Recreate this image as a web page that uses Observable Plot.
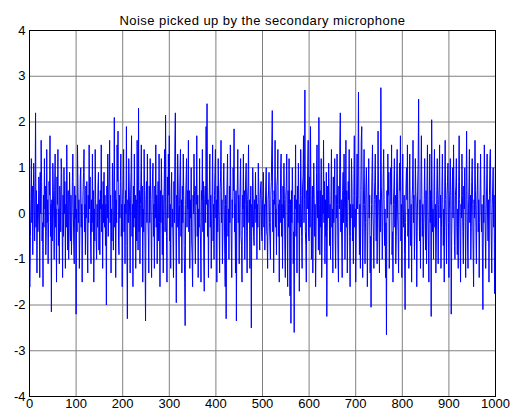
<!DOCTYPE html>
<html><head><meta charset="utf-8">
<script src="https://cdn.jsdelivr.net/npm/d3@7"></script>
<script src="https://cdn.jsdelivr.net/npm/@observablehq/plot@0.6"></script>
<style>
html,body{margin:0;padding:0;background:#fff;}
#chart svg{display:block;}
.ttl text{letter-spacing:0.45px;}
</style></head><body><div id="chart"></div>
<script>
const title = "Noise picked up by the secondary microphone";
const xTicks = [0,100,200,300,400,500,600,700,800,900,1000];
const yTicks = [-4,-3,-2,-1,0,1,2,3,4];
const noise = [
-1.6,-0.5,0.3,1.2,-0.2,0.6,-0.9,0.1,1.1,0.4,-0.6,0.3,2.2,-0.3,0.5,-1.3,0.2,-0.4,-0.1,0.8,
0.5,-1.4,0.9,0.0,1.6,0.7,-0.6,-0.2,-1.6,0.4,-0.3,1.2,0.1,0.6,-0.9,-0.4,1.4,-0.2,0.3,-1.1,
-0.2,0.7,0.4,1.7,-0.5,0.2,-2.15,0.3,-0.6,1.1,0.6,-0.1,-1.0,0.5,1.3,-0.3,0.1,-1.5,0.8,0.2,
1.4,-0.7,0.1,-1.1,0.6,0.3,-0.4,1.2,0.9,-0.2,-1.4,0.4,-0.5,1.0,0.0,0.7,-1.2,0.2,-0.3,1.5,
0.3,-0.8,0.5,-1.0,-0.3,0.9,0.2,-0.6,0.4,-0.9,-0.2,0.7,1.3,0.1,-0.7,-1.1,0.6,-0.1,0.4,-2.2,
0.1,-0.4,1.5,0.6,-0.2,0.3,-1.2,-0.5,0.8,1.0,-0.3,0.2,-1.5,-0.1,0.5,0.9,1.4,-0.4,0.2,-0.9,
0.6,-0.1,0.7,-0.6,-1.3,0.4,-0.2,1.5,0.1,0.8,-0.5,-1.1,0.3,-0.4,1.3,-0.2,0.5,-1.5,0.1,-0.6,
1.4,0.3,-0.5,-1.0,0.2,-0.3,0.6,0.9,-0.8,0.3,-0.9,0.5,0.1,1.5,-0.4,0.2,-1.2,0.7,-0.2,0.9,
-0.3,0.4,-0.7,0.2,-2.0,0.6,-0.1,1.3,-0.5,0.3,0.8,1.6,-0.2,0.4,-1.3,0.1,-0.6,1.1,0.5,-0.8,
0.2,2.1,-0.3,0.5,-1.4,0.3,-0.2,1.5,0.7,1.8,-0.6,-0.9,0.4,-0.1,0.7,1.3,-0.5,0.2,-1.6,0.3,
0.6,1.4,-0.4,0.2,-1.1,0.5,0.0,1.9,-0.7,-2.3,0.3,-0.2,1.2,0.6,-0.1,-1.3,0.4,0.9,1.7,-0.5,
0.2,-1.6,0.6,-0.3,1.3,-0.1,0.4,-1.2,0.3,-0.6,1.6,0.1,-0.8,2.3,-0.4,0.5,-1.1,0.2,0.7,1.5,
-0.3,0.6,-1.5,0.1,-0.4,1.4,0.5,-0.9,-2.35,0.3,0.7,-0.2,1.3,0.0,-0.5,-1.3,0.6,-0.2,1.2,0.3,
-0.4,-1.4,0.3,0.8,1.1,-0.5,0.2,-1.2,0.6,-0.1,1.5,-0.3,0.4,-1.1,0.1,0.7,-0.6,1.3,-0.2,-1.6,
0.5,-0.2,1.2,0.3,-0.9,0.4,-1.3,0.1,0.6,1.4,-0.4,2.15,0.2,-0.5,-1.5,0.8,-0.1,1.3,0.4,1.7,
-0.6,0.2,-1.2,0.5,0.9,-0.3,0.1,-0.6,-1.4,0.7,-0.2,1.5,2.2,0.3,-1.95,0.4,-0.3,1.3,0.6,-0.4,
-1.1,0.2,0.9,1.4,-0.5,0.3,-1.3,0.6,-0.2,1.3,0.4,-0.7,-1.5,-2.45,0.2,0.7,1.2,-0.3,0.5,0.1,
1.6,-0.4,0.5,-1.2,0.3,-0.1,1.0,-0.6,-0.9,-1.6,0.4,0.0,1.3,0.5,-0.3,-1.1,0.6,0.2,1.7,-0.5,
0.4,-1.4,0.1,-0.3,1.2,-0.2,-0.6,-1.5,0.5,0.3,1.4,-0.4,0.7,-1.0,-1.7,0.3,0.6,-0.2,1.9,0.2,
2.4,-0.5,0.3,-1.4,0.1,0.6,1.3,-0.3,0.4,-1.2,-0.1,0.5,1.5,-0.6,0.2,-1.0,0.4,0.9,1.4,-0.1,
0.3,-1.5,0.6,-0.4,1.2,0.1,-0.3,-1.3,0.5,0.8,1.6,-0.2,0.3,-1.1,-0.4,0.6,1.1,0.2,-0.9,-1.6,
0.4,-2.3,0.2,0.7,1.3,-0.5,0.1,-1.0,0.6,-0.2,1.5,0.4,-0.6,-1.4,0.3,-0.1,1.0,0.5,1.85,-0.4,
0.2,-1.3,0.5,-2.35,0.3,0.6,1.4,-0.2,0.4,-1.1,0.1,0.6,1.2,-0.5,-0.7,-1.5,0.4,0.1,1.3,-0.3,
0.5,-1.0,0.2,0.8,1.1,-0.4,-1.3,0.3,0.6,1.5,-0.2,0.3,-1.2,0.1,0.6,-2.5,0.2,-0.3,1.0,0.4,
-0.5,-0.7,0.3,0.1,0.9,-0.2,0.4,-1.0,0.2,-0.3,1.1,0.5,-0.1,-0.8,0.3,0.6,0.7,-0.4,-0.6,0.2,
0.4,0.9,-0.3,0.2,-0.8,0.1,0.6,1.0,-0.4,-0.5,-1.2,0.3,0.5,0.9,-0.2,-0.6,-1.0,0.4,0.7,1.5,
2.25,-0.4,0.3,-1.3,0.5,0.2,1.6,-0.3,0.1,-0.9,0.6,0.8,1.4,-0.5,0.2,-1.5,0.3,-0.2,1.0,1.3,
-0.5,0.2,-1.2,0.6,-0.1,1.1,0.3,-0.8,-1.4,0.4,0.6,1.3,-0.2,-1.6,0.5,-0.3,1.2,0.2,-1.8,0.3,
-2.4,0.5,-0.2,1.0,0.3,-1.1,-0.4,-2.6,0.4,0.1,1.5,-0.5,0.3,-1.3,0.6,-0.2,1.1,0.3,-1.7,0.2,
-0.3,1.4,0.4,-0.5,-1.2,0.6,0.8,1.7,-0.2,0.3,2.7,-0.4,-0.7,-1.5,0.5,0.1,1.0,1.6,-0.5,-0.6,
0.8,-0.3,1.9,0.4,-1.0,-0.2,0.6,-1.3,0.1,1.1,0.3,-0.5,0.2,-1.6,-0.4,0.9,1.5,-0.1,0.5,-0.8,
2.1,0.2,-0.9,0.5,-0.3,1.2,-1.4,-0.6,0.4,0.0,1.6,-0.2,0.7,-1.1,0.3,-0.5,0.9,-2.25,-0.4,0.6,
-0.1,1.1,0.4,-0.7,0.2,-1.0,0.5,1.4,-0.3,0.1,-1.3,0.8,-0.2,0.3,1.2,-0.6,-1.2,0.4,-0.1,1.3,
0.2,-0.9,-1.5,0.6,0.1,1.5,2.2,-0.4,0.3,-0.6,-1.4,0.5,0.9,-0.2,1.3,0.4,-1.0,0.1,1.6,-0.3,
0.5,-1.3,-0.2,0.7,0.3,1.4,-0.5,-1.6,0.2,-0.1,1.2,0.6,-0.6,0.2,-1.1,0.4,1.7,-0.3,0.1,-1.5,
-0.6,0.4,1.3,0.1,0.9,2.65,0.3,-0.9,0.2,-1.2,0.5,1.6,1.9,-0.1,-1.4,-0.3,0.6,1.4,0.2,-1.1,
-0.2,0.6,1.0,0.3,-1.6,-0.4,0.5,1.2,-0.1,0.4,-1.3,-0.5,-2.05,0.2,0.9,1.5,0.0,-0.5,-1.2,0.3,
0.7,1.3,0.2,-0.6,0.4,-1.1,0.1,1.8,0.5,-0.2,-1.3,0.3,-0.4,2.75,0.6,0.1,-1.0,-0.3,0.8,1.4,
0.3,-0.7,0.1,-1.4,-0.2,-2.65,0.5,-0.1,1.3,0.4,0.9,-1.2,-0.3,0.6,1.0,0.2,1.5,-0.9,-0.4,-1.5,
0.2,0.6,1.2,-0.3,0.4,-1.1,-0.5,0.8,1.4,0.0,-0.4,-1.3,0.3,1.1,0.5,1.7,-0.6,0.2,-1.4,0.5,
1.3,0.1,-0.3,0.4,-0.9,-2.1,-0.2,0.6,1.0,0.3,1.5,-0.5,0.1,-1.2,0.4,1.3,-0.1,-0.7,0.2,-1.5,
0.3,0.6,1.6,-0.2,0.4,-1.0,-0.3,1.2,0.5,0.1,-1.6,-0.4,0.6,1.1,2.5,0.2,-0.6,0.3,-1.2,0.8,
1.7,0.4,-0.5,0.2,-1.4,-0.2,0.3,1.2,-0.1,-0.8,0.5,-1.1,0.7,1.5,0.1,-0.6,-1.5,0.4,1.3,-0.2,
0.5,-2.25,2.05,0.3,-0.4,0.1,-1.0,0.6,1.4,-0.3,0.2,-1.3,-0.6,0.5,1.2,0.3,-1.1,0.2,0.6,1.5,
-0.1,0.4,-1.2,-0.3,0.5,1.3,0.2,-0.7,0.1,-1.5,0.6,1.6,0.3,-0.3,-1.1,0.4,0.7,1.1,-0.2,-1.4,
0.1,0.5,1.2,0.4,-2.2,-0.5,0.3,1.0,-0.1,1.5,0.2,-0.7,-1.0,0.4,0.6,1.2,-0.3,-0.9,0.1,-1.2,
0.7,1.7,0.3,-0.5,-1.5,0.2,-0.1,1.3,0.4,-0.4,-1.1,0.6,0.1,1.0,-0.2,-1.4,0.5,1.8,0.3,-0.6,
-1.2,0.1,0.6,1.4,-0.2,0.4,-1.0,-0.3,0.7,1.2,0.2,-0.8,-1.6,0.3,-0.1,1.6,0.5,-0.3,-1.1,0.2,
0.6,1.1,-0.4,0.3,-1.4,-0.2,0.5,1.3,0.1,-0.4,0.2,-1.0,-2.1,0.4,-0.2,1.5,0.6,-0.4,-1.2,0.1,
0.6,1.3,-0.1,-0.6,0.3,-1.5,0.4,1.2,1.4,0.2,-0.6,-1.3,0.1,0.6,1.0,-0.3,0.4,-1.75,-0.5,1.7
];
const data = noise.map((v, i) => ({n: i + 1, v}));
const font = "'Liberation Sans', Arial, Helvetica, sans-serif";
const chart = Plot.plot({
  width: 517, height: 418,
  marginLeft: 29, marginRight: 22, marginTop: 30, marginBottom: 22,
  style: {fontFamily: font, fontSize: "13px", background: "#fff", color: "#000"},
  x: {domain: [0, 1000], ticks: xTicks},
  y: {domain: [-4, 4], ticks: yTicks},
  marks: [
    Plot.gridX(xTicks, {stroke: "#808080", strokeOpacity: 1}),
    Plot.gridY(yTicks, {stroke: "#808080", strokeOpacity: 1}),
    Plot.lineY(data, {x: "n", y: "v", stroke: "#0000ff", strokeWidth: 1}),
    Plot.frame({stroke: "#000"}),
    Plot.axisX(xTicks, {tickSize: 0, tickPadding: 2, label: null, fontSize: 13, tickFormat: d => String(d)}),
    Plot.axisY(yTicks, {tickSize: 0, tickPadding: 4, label: null, fontSize: 13, tickFormat: d => String(d)}),
    Plot.text([title], {frameAnchor: "top", dy: -15, text: d => d, fontSize: 13, fill: "#000", className: "ttl"})
  ]
});
document.getElementById("chart").appendChild(chart);
</script></body></html>
